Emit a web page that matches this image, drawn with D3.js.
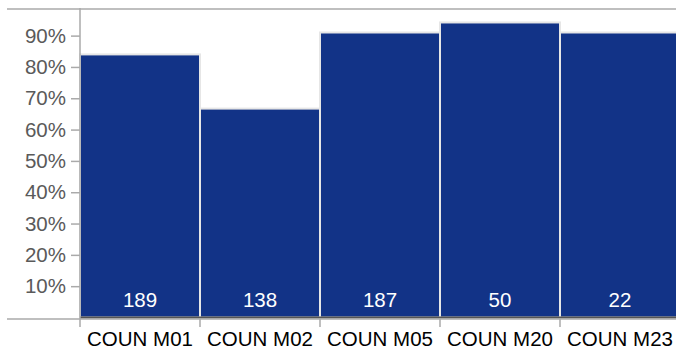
<!DOCTYPE html>
<html>
<head>
  <script src="https://d3js.org/d3.v7.min.js"></script>
  <style>
    body { margin: 0; background: #fff; }
    text { font-family: Arial, "Liberation Sans", sans-serif; }
  </style>
</head>
<body>
  <svg id="chart" width="676" height="351"></svg>
  <script>
    // data
    var categories = ["COUN M01", "COUN M02", "COUN M05", "COUN M20", "COUN M23"];
    var shares = [0.84, 0.667, 0.91, 0.942, 0.91];
    var counts = [189, 138, 187, 50, 22];
    var yTicks = [0.1, 0.2, 0.3, 0.4, 0.5, 0.6, 0.7, 0.8, 0.9];

    var data = categories.map(function(c, i) {
      return { cat: c, share: shares[i], n: counts[i] };
    });

    var svg = d3.select("#chart");

    var x = d3.scaleBand()
      .domain(categories)
      .range([80, 680])
      .padding(0);

    var y = d3.scaleLinear()
      .domain([0, 0.985])
      .range([317.5, 9]);

    // frame line on top
    svg.append("line")
      .attr("x1", 7).attr("x2", 676)
      .attr("y1", 9).attr("y2", 9)
      .attr("stroke", "#aaa").attr("stroke-width", 1.5);

    // bars
    svg.selectAll("rect.bar")
      .data(data)
      .enter().append("rect")
      .attr("class", "bar")
      .attr("x", function(d) { return x(d.cat); })
      .attr("width", x.bandwidth())
      .attr("y", function(d) { return y(d.share); })
      .attr("height", function(d) { return y(0) - y(d.share); })
      .attr("fill", "#123387")
      .attr("stroke", "#e6e6e6")
      .attr("stroke-width", 2);

    // count labels
    svg.selectAll("text.count")
      .data(data)
      .enter().append("text")
      .attr("class", "count")
      .attr("x", function(d) { return x(d.cat) + x.bandwidth() / 2; })
      .attr("y", 306.5)
      .attr("text-anchor", "middle")
      .attr("fill", "#fff")
      .style("font-size", "20.5px")
      .text(function(d) { return d.n; });

    // bottom dark band + axis line
    svg.append("line")
      .attr("x1", 80).attr("x2", 676)
      .attr("y1", y(0)).attr("y2", y(0))
      .attr("stroke", "#555").attr("stroke-width", 2);
    svg.append("line")
      .attr("x1", 7).attr("x2", 676)
      .attr("y1", 319).attr("y2", 319)
      .attr("stroke", "#aaa").attr("stroke-width", 1.5);

    // y axis
    var yAxis = d3.axisLeft(y)
      .tickValues(yTicks)
      .tickFormat(d3.format(".0%"))
      .tickSize(9)
      .tickSizeOuter(0)
      .tickPadding(5);

    var gy = svg.append("g")
      .attr("transform", "translate(80,0)")
      .call(yAxis);
    gy.select(".domain").remove();
    gy.selectAll(".tick line").attr("stroke", "#aaa").attr("stroke-width", 1.5);
    gy.selectAll(".tick text")
      .attr("fill", "#5a5a5a")
      .style("font-size", "20.5px")
      .style("font-family", "Arial, 'Liberation Sans', sans-serif");

    svg.append("line")
      .attr("x1", 80).attr("x2", 80)
      .attr("y1", 8).attr("y2", 319)
      .attr("stroke", "#aaa").attr("stroke-width", 1.5);

    // x ticks at band edges, labels at band centres
    svg.selectAll("line.xtick")
      .data(categories)
      .enter().append("line")
      .attr("class", "xtick")
      .attr("x1", function(d) { return x(d); })
      .attr("x2", function(d) { return x(d); })
      .attr("y1", 319).attr("y2", 327)
      .attr("stroke", "#aaa").attr("stroke-width", 1.5);

    svg.selectAll("text.xlab")
      .data(categories)
      .enter().append("text")
      .attr("class", "xlab")
      .attr("x", function(d) { return x(d) + x.bandwidth() / 2; })
      .attr("y", 346)
      .attr("text-anchor", "middle")
      .attr("fill", "#000")
      .style("font-size", "20.5px")
      .text(function(d) { return d; });
  </script>
</body>
</html>
